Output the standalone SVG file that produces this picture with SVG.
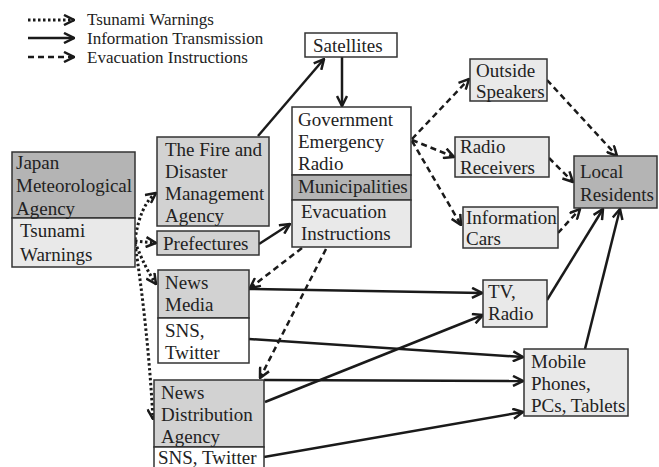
<svg xmlns="http://www.w3.org/2000/svg" width="659" height="467" viewBox="0 0 659 467" font-family="'Liberation Serif', 'Times New Roman', serif">
<style>
text{font-family:'Liberation Serif','Times New Roman',serif;font-size:19px;fill:#222}
text.leg{font-size:17px}
.box{stroke:#333;stroke-width:1.5}
.dk{fill:#b4b4b4}.md{fill:#d2d2d2}.lt{fill:#e9e9e9}.wh{fill:#fff}
.c{fill:none;stroke:#1a1a1a;stroke-width:2.5}
.dot{stroke-dasharray:2.5 2.5;stroke-width:3}
.dash{stroke-dasharray:6 4}
</style>
<defs>
<marker id="ah" viewBox="0 0 12 12" markerWidth="12" markerHeight="12" markerUnits="userSpaceOnUse" refX="11" refY="6" orient="auto">
<path d="M1,1 L11,6 L1,11" fill="none" stroke="#1a1a1a" stroke-width="2.5"/>
</marker>
</defs>
<g id="legend">
<path class="c dot" d="M28,20 H74" marker-end="url(#ah)"/>
<path class="c" d="M28,38 H74" marker-end="url(#ah)"/>
<path class="c dash" d="M28,57 H74" marker-end="url(#ah)"/>
<text class="leg" x="87" y="25">Tsunami Warnings</text>
<text class="leg" x="87" y="44">Information Transmission</text>
<text class="leg" x="87" y="63">Evacuation Instructions</text>
</g>
<g id="connectors">
<path class="c dot" d="M135,240 Q140,205 156,193" marker-end="url(#ah)"/>
<path class="c dot" d="M135,241 L156,243" marker-end="url(#ah)"/>
<path class="c dot" d="M135,242 Q145,268 156,284" marker-end="url(#ah)"/>
<path class="c dot" d="M135,244 Q148,330 153,419" marker-end="url(#ah)"/>
<path class="c" d="M258,136 L324,59" marker-end="url(#ah)"/>
<path class="c" d="M342,57 V106" marker-end="url(#ah)"/>
<path class="c" d="M259,244 L290,224" marker-end="url(#ah)"/>
<path class="c" d="M249,289 L482,293" marker-end="url(#ah)"/>
<path class="c" d="M249,339 L523,357" marker-end="url(#ah)"/>
<path class="c" d="M264,380 L523,381" marker-end="url(#ah)"/>
<path class="c" d="M265,402 L483,315" marker-end="url(#ah)"/>
<path class="c" d="M264,457 L523,412" marker-end="url(#ah)"/>
<path class="c" d="M547,300 L603,209" marker-end="url(#ah)"/>
<path class="c" d="M585,349 L620,209" marker-end="url(#ah)"/>
<path class="c dash" d="M412,139 L469,79" marker-end="url(#ah)"/>
<path class="c dash" d="M412,140 L454,157" marker-end="url(#ah)"/>
<path class="c dash" d="M412,141 L461,225" marker-end="url(#ah)"/>
<path class="c dash" d="M547,80 L617,156" marker-end="url(#ah)"/>
<path class="c dash" d="M549,158 L573,182" marker-end="url(#ah)"/>
<path class="c dash" d="M558,233 L580,209" marker-end="url(#ah)"/>
<path class="c dash" d="M302,248 L250,288" marker-end="url(#ah)"/>
<path class="c dash" d="M326,249 L260,378" marker-end="url(#ah)"/>
</g>
<g id="jma">
<rect class="box dk" x="12" y="152" width="123" height="66"/>
<rect class="box lt" x="12" y="218" width="123" height="49"/>
<text x="16" y="169">Japan</text>
<text x="16" y="192">Meteorological</text>
<text x="16" y="215">Agency</text>
<text x="20" y="237">Tsunami</text>
<text x="20" y="261">Warnings</text>
</g>
<g id="fdma">
<rect class="box md" x="157" y="137" width="112" height="89"/>
<text x="165" y="156">The Fire and</text>
<text x="165" y="178">Disaster</text>
<text x="165" y="200">Management</text>
<text x="165" y="222">Agency</text>
</g>
<g id="prefectures">
<rect class="box md" x="157" y="231" width="102" height="24"/>
<text x="163" y="250">Prefectures</text>
</g>
<g id="satellites">
<rect class="box wh" x="305" y="33" width="92" height="24"/>
<text x="313" y="52">Satellites</text>
</g>
<g id="municipalities">
<rect class="box wh" x="292" y="107" width="119" height="68"/>
<rect class="box dk" x="292" y="175" width="119" height="25"/>
<rect class="box lt" x="292" y="200" width="119" height="47"/>
<text x="298" y="126">Government</text>
<text x="298" y="148">Emergency</text>
<text x="298" y="170">Radio</text>
<text x="298" y="193">Municipalities</text>
<text x="301" y="218">Evacuation</text>
<text x="301" y="240">Instructions</text>
</g>
<g id="speakers">
<rect class="box lt" x="470" y="59" width="77" height="42"/>
<text x="476" y="77">Outside</text>
<text x="476" y="98">Speakers</text>
</g>
<g id="receivers">
<rect class="box lt" x="455" y="137" width="94" height="40"/>
<text x="460" y="153">Radio</text>
<text x="460" y="174">Receivers</text>
</g>
<g id="cars">
<rect class="box lt" x="463" y="207" width="95" height="41"/>
<text x="466" y="224">Information</text>
<text x="466" y="245">Cars</text>
</g>
<g id="residents">
<rect class="box dk" x="574" y="156" width="83" height="52"/>
<text x="580" y="178">Local</text>
<text x="580" y="201">Residents</text>
</g>
<g id="tvradio">
<rect class="box lt" x="483" y="280" width="64" height="47"/>
<text x="488" y="298">TV,</text>
<text x="488" y="320">Radio</text>
</g>
<g id="mobile">
<rect class="box lt" x="524" y="349" width="104" height="67"/>
<text x="531" y="368">Mobile</text>
<text x="531" y="390">Phones,</text>
<text x="531" y="412">PCs, Tablets</text>
</g>
<g id="newsmedia">
<rect class="box md" x="158" y="270" width="91" height="48"/>
<rect class="box wh" x="158" y="318" width="91" height="45"/>
<text x="165" y="289">News</text>
<text x="165" y="311">Media</text>
<text x="165" y="337">SNS,</text>
<text x="165" y="359">Twitter</text>
</g>
<g id="newsdist">
<rect class="box md" x="154" y="380" width="110" height="67"/>
<rect class="box wh" x="154" y="447" width="110" height="22"/>
<text x="161" y="399">News</text>
<text x="161" y="421">Distribution</text>
<text x="161" y="443">Agency</text>
<text x="158" y="464">SNS, Twitter</text>
</g>
</svg>
